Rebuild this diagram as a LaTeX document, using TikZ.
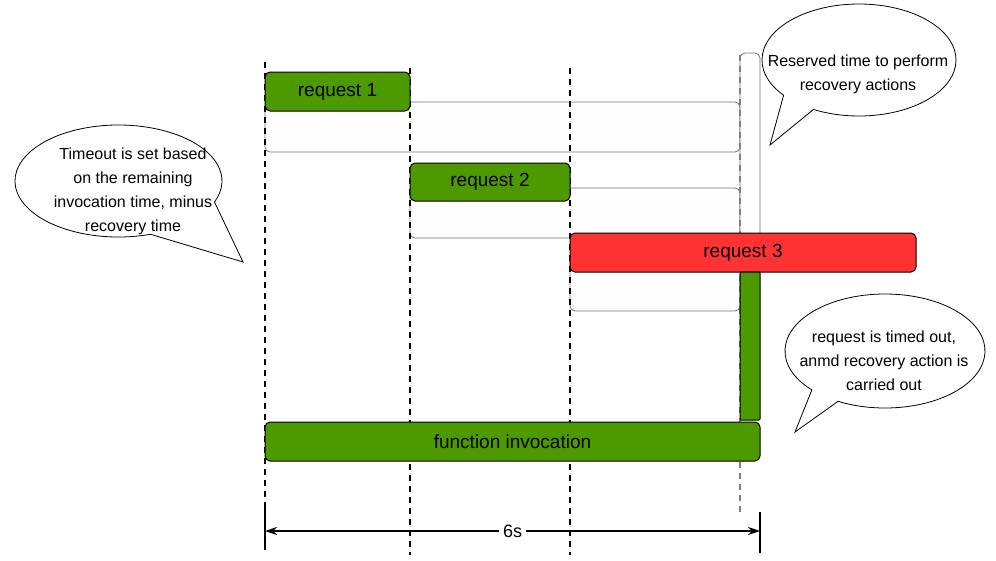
\documentclass[tikz,border=0pt]{standalone}
\usepackage{fontspec}
\setmainfont{Liberation Sans}
\usetikzlibrary{arrows.meta}

\definecolor{barGreen}{HTML}{4D9900}
\definecolor{barRed}{HTML}{FF3333}

\tikzset{
  bar/.style={draw=black,line width=1pt,rounded corners=5pt,inner sep=0pt,
    font=\fontsize{19}{23}\selectfont},
  slot/.style={draw=gray!90!black,line width=0.8pt,rounded corners=5pt,fill=gray!1},
  timeline/.style={line width=1.6pt,dash pattern=on 6pt off 5pt},
  bubble/.style={draw=black,line width=0.8pt,fill=white},
  note/.style={font=\fontsize{16}{24}\selectfont,align=center,inner sep=0pt}
}

\begin{document}
\begin{tikzpicture}[x=1pt,y=-1pt]
  \useasboundingbox (0,0) rectangle (996,560);
  % timeout windows
  \draw[slot] (265,102) rectangle (740,152);
  \draw[slot] (410,188) rectangle (740,238);
  \draw[slot] (570,255) rectangle (740,311);
  \draw[slot] (740,53) rectangle (760,272);
  % time marks
  \draw[timeline] (265,62) -- (265,550);
  \draw[timeline] (410,68) -- (410,555);
  \draw[timeline] (570,68) -- (570,555);
  \draw[timeline,gray] (740,55) -- (740,515);
  % requests
  \node[bar,fill=barGreen,minimum width=145,minimum height=39] (req1) at (337.5,91.5) {request 1};
  \node[bar,fill=barGreen,minimum width=160,minimum height=38] (req2) at (490,182) {request 2};
  \node[bar,fill=barRed,minimum width=346,minimum height=39] (req3) at (743,252.5) {request 3};
  \node[bar,fill=barGreen,rounded corners=1pt,minimum width=20,minimum height=148] (recovery) at (750,346) {};
  \node[bar,fill=barGreen,minimum width=495,minimum height=39] (invocation) at (512.5,441.5) {function invocation};
  % callouts
  \coordinate (tipTimeout) at (243,262);
  \coordinate (tipReserved) at (770,145);
  \coordinate (tipRecovery) at (795,432);
  \draw[bubble] (118.5,181) ++(72:103.5 and 56)
    arc[start angle=72,end angle=382,x radius=103.5,y radius=56] -- (tipTimeout) -- cycle;
  \draw[bubble] (859,60) ++(141:97 and 56)
    arc[start angle=141,end angle=478,x radius=97,y radius=56] -- (tipReserved) -- cycle;
  \draw[bubble] (885,351) ++(137:100 and 57)
    arc[start angle=137,end angle=478,x radius=100,y radius=57] -- (tipRecovery) -- cycle;
  \node[note] (noteTimeout) at (133,191) {Timeout is set based\\on the remaining\\invocation time, minus\\recovery time};
  \node[note] (noteReserved) at (858,74) {Reserved time to perform\\recovery actions};
  \node[note] (noteRecovery) at (884,361) {request is timed out,\\anmd recovery action is\\carried out};
  % duration
  \draw[line width=1.3pt] (265,508) -- (265,550);
  \draw[line width=1.3pt] (760,512) -- (760,553);
  \coordinate (spanL) at (265,531);
  \coordinate (spanR) at (760,531);
  \draw[{Stealth[length=12pt,width=8pt]}-{Stealth[length=12pt,width=8pt]},line width=1.3pt]
    (spanL) -- (spanR) node[midway,fill=white,inner sep=4pt,font=\fontsize{18}{22}\selectfont] (span) {6s};
\end{tikzpicture}
\end{document}
